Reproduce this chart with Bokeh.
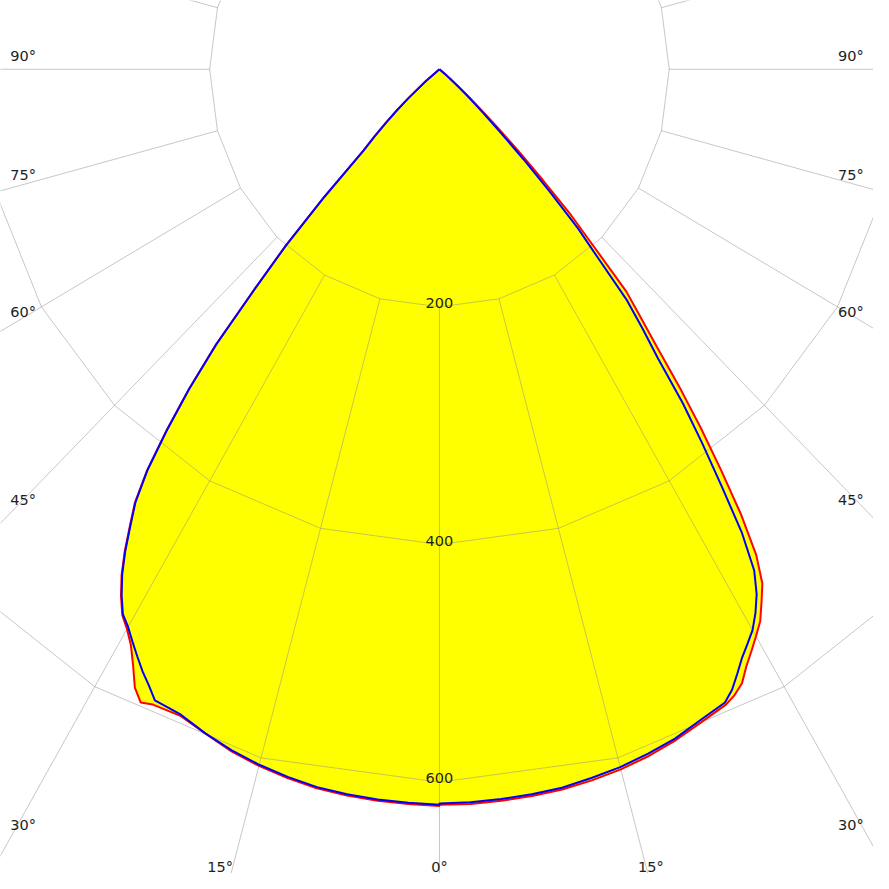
import numpy as np
from bokeh.plotting import figure
from bokeh.models import Range1d
from bokeh.embed import file_html
from bokeh.resources import INLINE
from bokeh.core.properties import value

# ---------------- data (luminous intensity, cd/klm) ----------------
angles = [0, 2.5, 5, 7.5, 10, 12.5, 15, 17.5, 20, 22.5,
          25, 26, 27, 28, 29, 30, 31, 32, 33, 34, 35, 36, 37, 38, 39, 40,
          41, 42, 43, 44, 45, 46, 47, 48, 50, 55, 60, 70, 80, 90]

# C0-C180 plane (red): left half / right half
red_left = [620, 619, 618, 616.5, 614.5, 611, 607, 602, 595, 589,
            590, 593, 584, 568, 554, 544, 536, 523, 508, 490, 470, 451, 423, 386, 347, 303,
            246, 201, 148, 96, 80, 65, 51, 37, 16, 0, 0, 0, 0, 0]
red_right = [619, 619, 618, 617, 615.5, 613, 610, 606, 601, 595,
             590, 586, 580, 569, 560, 551, 542, 529, 516, 493, 458, 417, 378, 339, 301, 272,
             248, 201, 168, 129, 96, 68, 47, 32, 12, 0, 0, 0, 0, 0]

# C90-C270 plane (blue): left half / right half
blue_left = [619, 618, 617, 615.5, 613.5, 610, 606, 601, 595, 588,
             586, 577, 569, 560, 551, 542, 535, 522, 507, 489, 469, 450, 422, 385, 346, 302,
             245, 200, 147, 95, 79, 64, 50, 36, 15, 0, 0, 0, 0, 0]
blue_right = [618, 617.5, 616.5, 615.5, 614, 611, 608, 604, 599.5, 593,
              588, 581, 571, 561, 553, 545, 534, 521, 503, 471, 428, 389, 352, 309, 281, 254,
              210, 180, 140, 105, 75, 52, 36, 24, 8, 0, 0, 0, 0, 0]

ring_values = [200, 400, 600, 800]
ring_labels = ["200", "400", "600"]
spoke_step = 15
side_label_angles = [90, 75, 60, 45, 30]
bottom_label_angles = [-15, 0, 15]

# ---------------- layout ----------------
W = H = 873
K = W / 889.0                  # scale from the 889 px reference
CX, CY = 447 * K, 70 * K       # pole position in plot pixels
SX, SY = 1.17 * K, 1.21 * K    # pixels per unit (x, y)


def xd(px):
    return (px - CX) / SX


def yd(py):
    return (CY - py) / SY


p = figure(width=W, height=H,
           x_range=Range1d(xd(0), xd(W)), y_range=Range1d(yd(H), yd(0)),
           output_backend="svg", toolbar_location=None, min_border=0,
           background_fill_color="white", border_fill_color="white")
p.axis.visible = False
p.grid.visible = False
p.outline_line_color = None

th = np.radians(angles)


def outline(left, right):
    l = np.array(left, dtype=float)
    r = np.array(right, dtype=float)
    xl, yl = -l * np.sin(th), -l * np.cos(th)
    xr, yr = r * np.sin(th), -r * np.cos(th)
    return (np.concatenate([xl[::-1], xr]), np.concatenate([yl[::-1], yr]))


rx, ry = outline(red_left, red_right)
bx, by = outline(blue_left, blue_right)

# fills
p.patch(rx, ry, fill_color="#ffff00", line_color=None)
p.patch(bx, by, fill_color="#ffff00", line_color=None)

# grid: polygonal rings and spokes
phi = np.radians(np.arange(0, 361, spoke_step))
ring_xs = [list(r * np.sin(phi)) for r in ring_values]
ring_ys = [list(-r * np.cos(phi)) for r in ring_values]
p.multi_line(ring_xs, ring_ys, line_color="#909090", line_alpha=0.5, line_width=1)

sp = np.radians(np.arange(0, 360, spoke_step))
r0, r1 = ring_values[0], 3000
spoke_xs = [[r0 * np.sin(a), r1 * np.sin(a)] for a in sp]
spoke_ys = [[-r0 * np.cos(a), -r1 * np.cos(a)] for a in sp]
p.multi_line(spoke_xs, spoke_ys, line_color="#909090", line_alpha=0.5, line_width=1)

FONT = value("DejaVu Sans")
FS = "14.5px"
TC = "#1e1e1e"

# ring labels
p.text(x=[0] * len(ring_labels), y=[-float(t) for t in ring_labels], text=ring_labels,
       text_align="center", text_baseline="alphabetic", y_offset=-4,
       text_font=FONT, text_font_size=FS, text_color=TC)

# side angle labels (vertical position taken from the spoke at a symmetric distance)
lx = xd(10 * K)
rx_anchor = -lx                # symmetric to the left anchor
rxe = xd(879 * K)
sl_x, sl_y, sl_t = [], [], []
sr_x, sr_y, sr_t = [], [], []
for a in side_label_angles:
    s, c = np.sin(np.radians(a)), np.cos(np.radians(a))
    rl = -lx / s
    sl_x.append(lx); sl_y.append(-rl * c); sl_t.append(f"{a}°")
    rr = rx_anchor / s
    sr_x.append(rxe); sr_y.append(-rr * c); sr_t.append(f"{a}°")
p.text(x=sl_x, y=sl_y, text=sl_t, text_align="left", text_baseline="alphabetic",
       y_offset=-13, text_font=FONT, text_font_size=FS, text_color=TC)
p.text(x=sr_x, y=sr_y, text=sr_t, text_align="right", text_baseline="alphabetic",
       y_offset=-13, text_font=FONT, text_font_size=FS, text_color=TC)

# bottom angle labels
by_ = yd(H - 7)
for a in bottom_label_angles:
    s, c = np.sin(np.radians(a)), np.cos(np.radians(a))
    r = -by_ / c
    x = r * s
    if a < 0:
        align, xo = "right", 0
    elif a > 0:
        align, xo = "left", -8
    else:
        align, xo = "center", 0
    p.text(x=[x], y=[by_], text=[f"{abs(a)}°"], text_align=align, text_baseline="alphabetic",
           x_offset=xo, text_font=FONT, text_font_size=FS, text_color=TC)

# curves
p.line(rx, ry, line_color="#ff0000", line_width=2)
p.line(bx, by, line_color="#0000ff", line_width=2)

open("out.html", "w").write(file_html(p, INLINE))
